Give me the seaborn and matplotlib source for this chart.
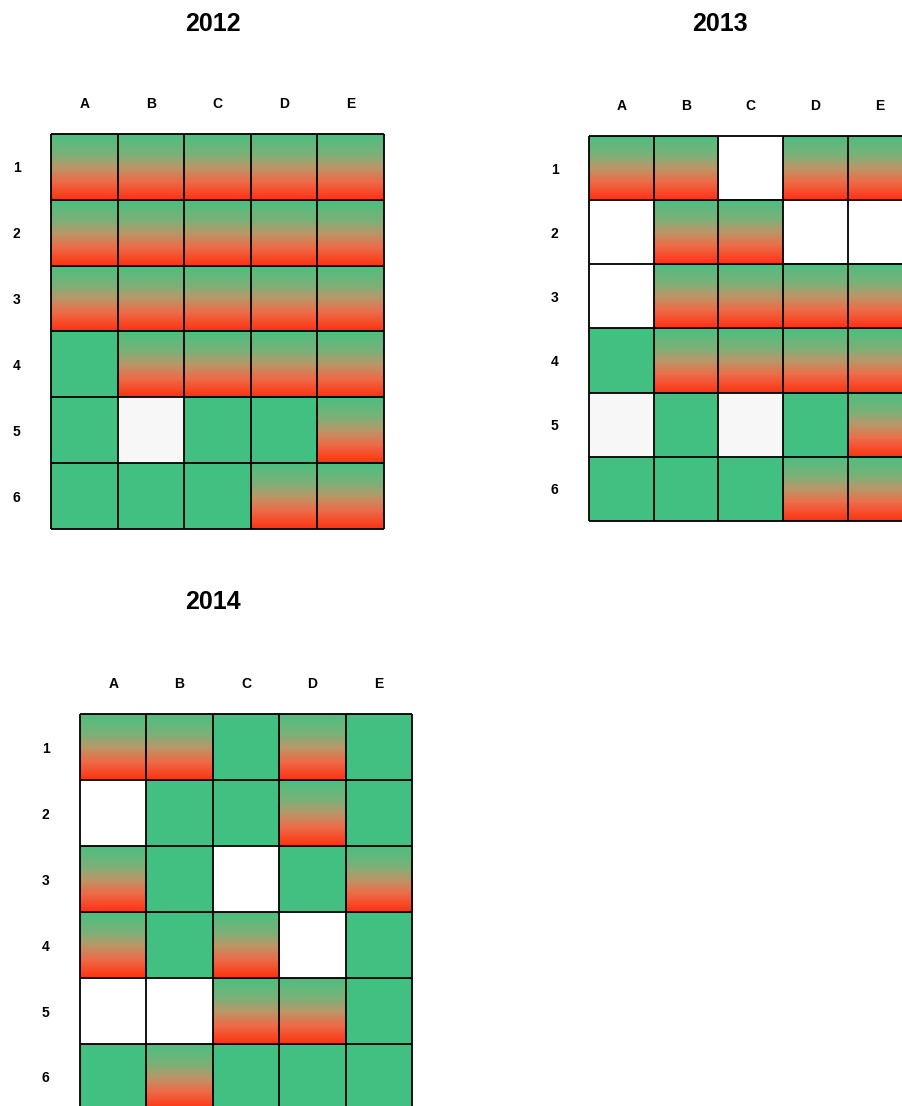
import matplotlib
matplotlib.use("Agg")
import matplotlib.pyplot as plt
from matplotlib.colors import ListedColormap, LinearSegmentedColormap
import numpy as np
import pandas as pd
import seaborn as sns

sns.set_style("white")
plt.rcParams['font.family'] = ['Liberation Sans', 'DejaVu Sans']
plt.rcParams['text.color'] = 'black'
plt.rcParams['xtick.color'] = 'black'
plt.rcParams['ytick.color'] = 'black'

columns = ["A", "B", "C", "D", "E"]
rows = ["1", "2", "3", "4", "5", "6"]
years = ["2012", "2013", "2014"]

# w = white, l = light grey, s = solid green, g = green->red gradient
grid_2012 = ["ggggg",
             "ggggg",
             "ggggg",
             "sgggg",
             "slssg",
             "sssgg"]
grid_2013 = ["ggwgg",
             "wggww",
             "wgggg",
             "sgggg",
             "lslsg",
             "sssgg"]
grid_2014 = ["ggsgs",
             "wssgs",
             "gswsg",
             "gsgws",
             "wwggs",
             "sgsss"]

codes = {"w": 0, "l": 1, "s": 2, "g": 3}
green = "#42c082"
cell_cmap = ListedColormap(["#ffffff", "#f7f7f7", green, green])
grad_cmap = LinearSegmentedColormap.from_list(
    "gr", [(0.0, "#4bbf80"), (0.3, "#7ab178"), (0.5, "#b89868"),
           (0.72, "#ec6c48"), (1.0, "#ff3210")])
grad = np.linspace(0, 1, 100).reshape(-1, 1)

fig = plt.figure(figsize=(9.02, 11.06), dpi=100)

# axes boxes in pixels: left, top, width, height
boxes = [(51, 134, 333, 395), (589, 136, 323.5, 385), (80, 714, 332, 396)]
titles = [(213, 24), (720, 24), (213, 602)]
W, H = 902, 1106

for year, grid, box, tpos in zip(years, [grid_2012, grid_2013, grid_2014], boxes, titles):
    l, t, w, h = box
    ax = fig.add_axes([l / W, 1 - (t + h) / H, w / W, h / H])
    df = pd.DataFrame([[codes[c] for c in r] for r in grid], index=rows, columns=columns)
    sns.heatmap(df, ax=ax, cmap=cell_cmap, vmin=-0.5, vmax=3.5, cbar=False,
                xticklabels=columns, yticklabels=rows)
    for i in range(len(rows)):
        for j in range(len(columns)):
            if grid[i][j] == "g":
                ax.imshow(grad, cmap=grad_cmap, aspect="auto", origin="upper",
                          extent=(j, j + 1, i + 1, i), interpolation="bilinear",
                          zorder=2)
    ax.set_xlim(0, len(columns))
    ax.set_ylim(len(rows), 0)
    ax.hlines(range(len(rows) + 1), 0, len(columns), color="black", lw=1.3,
              clip_on=False, zorder=3)
    ax.vlines(range(len(columns) + 1), 0, len(rows), color="black", lw=1.3,
              clip_on=False, zorder=3)
    ax.xaxis.tick_top()
    ax.tick_params(axis="x", length=0, pad=16.5, labelsize=10)
    ax.tick_params(axis="y", length=0, pad=22, labelsize=10)
    plt.setp(ax.get_xticklabels(), fontweight="bold", rotation=0)
    plt.setp(ax.get_yticklabels(), fontweight="bold", rotation=0, va="center_baseline")
    ax.set_xlabel("")
    ax.set_ylabel("")
    for s in ax.spines.values():
        s.set_visible(False)
    fig.text(tpos[0] / W, 1 - tpos[1] / H, year, ha="center", va="center",
             fontsize=18, fontweight="bold")

fig.savefig("out.png", dpi=100)
